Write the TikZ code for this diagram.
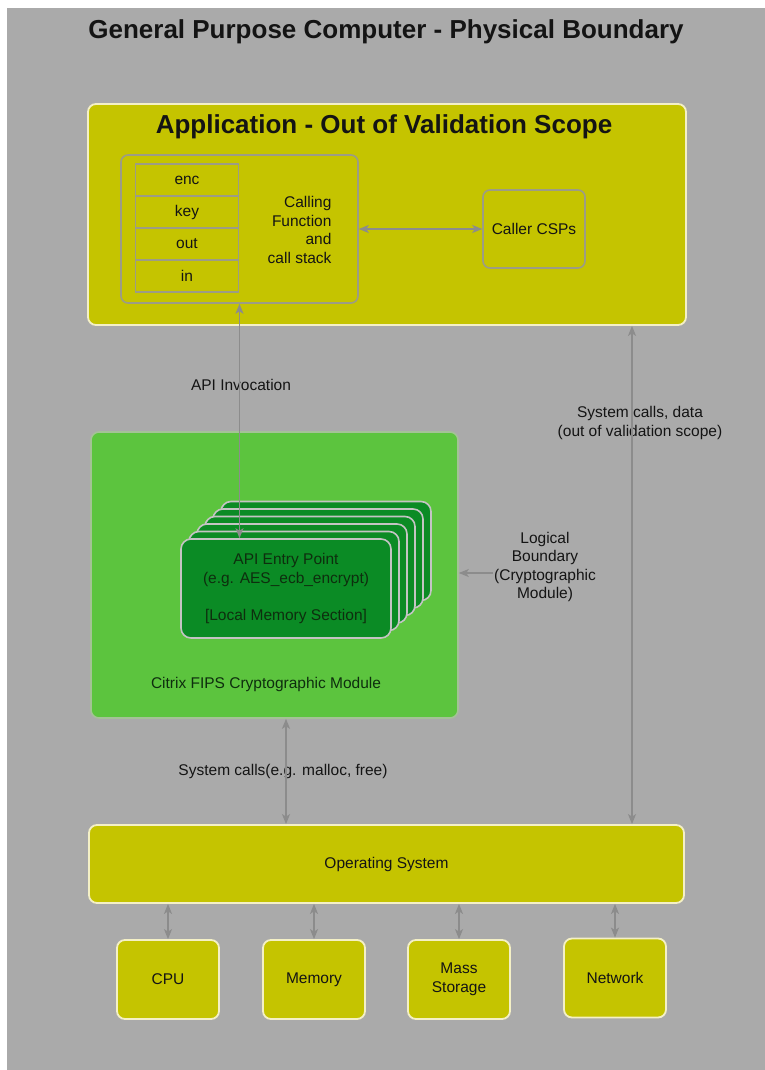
\documentclass[tikz,border=0pt]{standalone}
\usepackage{fontspec}
\setmainfont{Liberation Sans}
\usetikzlibrary{arrows.meta,positioning}

\definecolor{bggray}{HTML}{AAAAAA}
\definecolor{olivey}{HTML}{C5C400}
\definecolor{creamline}{HTML}{F4F0C6}
\definecolor{modgreen}{HTML}{5CC43E}
\definecolor{modline}{HTML}{A4C296}
\definecolor{darkgreen}{HTML}{0B8B25}
\definecolor{stackline}{HTML}{C4C4C4}
\definecolor{inline}{HTML}{9C9C86}
\definecolor{arrgray}{HTML}{8C8C8C}
\definecolor{txtdark}{HTML}{141414}
\definecolor{txtgreen}{HTML}{0E2E0E}

\tikzset{
  ybox/.style={draw=creamline,fill=olivey,line width=1.8pt,rounded corners=8pt,inner sep=0pt},
  gbox/.style={draw=inline,line width=1.6pt,rounded corners=7pt,inner sep=0pt},
  cell/.style={draw=inline,line width=1.6pt,inner sep=0pt,minimum width=103,minimum height=32},
  apibox/.style={draw=stackline,fill=darkgreen,line width=1.6pt,rounded corners=10pt,inner sep=0pt,
    minimum width=210,minimum height=99,text=txtgreen},
  arr/.style={draw=arrgray,line width=1.5pt},
  bigtitle/.style={font=\bfseries\fontsize{26}{30}\selectfont}
}

\begin{document}
\begin{tikzpicture}[x=1pt,y=-1pt,>={Stealth[length=10pt,width=8pt,inset=2.5pt]},
  every node/.style={font=\fontsize{15.5}{18.6}\selectfont,text=txtdark}]
\useasboundingbox (0,0) rectangle (765,1070);
\fill[white] (0,0) rectangle (765,1070);
\fill[bggray] (7,8) rectangle (765,1070);

\node[bigtitle] (title) at (386,32) {General Purpose Computer - Physical Boundary};

% application
\node[ybox,minimum width=598,minimum height=221] (app) at (387,214.5) {};
\node[bigtitle] (apptitle) at (384,127) {Application - Out of Validation Scope};
\node[gbox,minimum width=237,minimum height=148] (callfn) at (239.5,229) {};
\foreach \t/\y in {enc/180,key/212,out/244,in/276}
  \node[cell] (cell-\t) at (187,\y) {\t};
\node[align=right,anchor=east] (calltxt) at (335,230) {Calling\\Function\\and\\call stack};
\node[gbox,minimum width=102,minimum height=78] (csp) at (534,229) {Caller CSPs};
\draw[arr,<->] (callfn.east) -- (csp.west);

% crypto module
\node[draw=modline,fill=modgreen,line width=1.6pt,rounded corners=8pt,inner sep=0pt,
  minimum width=367,minimum height=286] (fips) at (274.5,575) {};
\node[text=txtgreen] (fipstxt) at (266,684) {Citrix FIPS Cryptographic Module};
\foreach \i in {5,4,...,1}
  \node[apibox] (api-\i) at (286+8*\i,588.5-7.5*\i) {};
\node[apibox,align=center] (api) at (286,588.5)
  {API Entry Point\\(e.g. AES\_ecb\_encrypt)\\[18.6pt][Local Memory Section]};

\node[align=center] (logic) at (545,567) {Logical\\Boundary\\(Cryptographic\\Module)};
\coordinate (lbstart) at (493,573);
\draw[arr,->,line width=1.2pt] (lbstart) -- (lbstart -| fips.east);

% operating system and hardware
\node[ybox,minimum width=595,minimum height=78] (os) at (386.5,864) {Operating System};
\node[ybox,minimum width=102,minimum height=79] (cpu) at (168,979.5) {CPU};
\node[ybox,minimum width=102,minimum height=79] (mem) at (314,979.5) {Memory};
\node[ybox,minimum width=102,minimum height=79,align=center] (mass) at (459,979.5) {Mass\\Storage};
\node[ybox,minimum width=102,minimum height=79] (net) at (615,978) {Network};

% labels
\node (apilbl) at (241,385) {API Invocation};
\node[align=center] (syslbl) at (640,423) {System calls, data\\(out of validation scope)};
\node (malloclbl) at (283,771) {System calls(e.g. malloc, free)};

% connectors
\coordinate (sysx) at (632,0);
\draw[arr,<->] (callfn.south) -- (callfn.south |- api.north);
\draw[arr,<->] (app.south -| sysx) -- (os.north -| sysx);
\draw[arr,<->] (fips.south -| api.south) -- (os.north -| api.south);
\foreach \b in {cpu,mem,mass,net}
  \draw[arr,<->] (\b.north) -- (\b.north |- os.south);
\end{tikzpicture}
\end{document}
